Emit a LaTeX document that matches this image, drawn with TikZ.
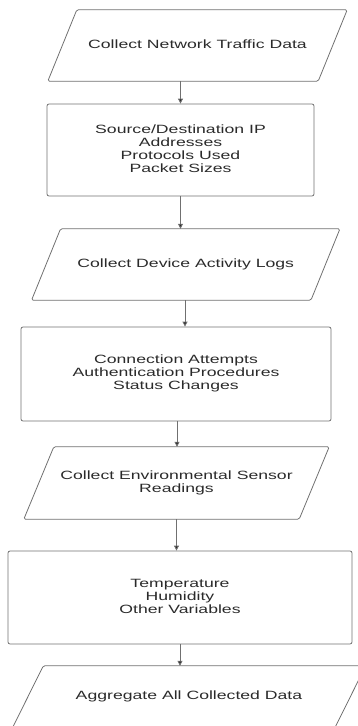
\documentclass[tikz,border=0pt]{standalone}
\usepackage{fontspec}
\setmainfont{Liberation Sans}
\usepackage{graphicx}
\usetikzlibrary{arrows.meta}

\definecolor{edge}{HTML}{707070}
\definecolor{ink}{HTML}{2A2A2A}

% wide, slightly condensed-height label text
\newcommand{\lbl}[1]{\scalebox{1.47}[1]{\fontsize{12}{13}\selectfont\begin{tabular}{@{}c@{}}#1\end{tabular}}}

\tikzset{
  procbox/.style={draw=edge, line width=0.8pt, rounded corners=2pt, inner sep=0pt, text=ink},
  iobox/.style={inner sep=0pt, text=ink},
  ioedge/.style={draw=edge, line width=0.8pt, rounded corners=1.5pt},
  flow/.style={draw=edge, line width=0.8pt, -{Triangle[length=5pt,width=5pt,fill=ink]}},
}

% draw a right-leaning parallelogram around an io node
\newcommand{\iopath}[2]{%
  \draw[ioedge] ([xshift=#2pt]#1.north west) -- ([xshift=#2pt]#1.north east)
    -- ([xshift=-#2pt]#1.south east) -- ([xshift=-#2pt]#1.south west) -- cycle;}

\begin{document}
\begin{tikzpicture}[x=1pt,y=-1pt]
\useasboundingbox (0,0) rectangle (357,726);

\node[iobox, minimum width=270pt, minimum height=71pt] (p1) at (197.5,45.5)
  {\lbl{Collect Network Traffic Data}};
\iopath{p1}{14.5}

\node[procbox, minimum width=267pt, minimum height=92pt] (b2) at (180.5,150)
  {\lbl{Source/Destination IP\\Addresses\\Protocols Used\\Packet Sizes}};

\node[iobox, minimum width=279pt, minimum height=71pt] (p3) at (185.75,264.5)
  {\lbl{Collect Device Activity Logs}};
\iopath{p3}{14.5}

\node[procbox, minimum width=310pt, minimum height=94pt] (b4) at (176,374)
  {\lbl{Connection Attempts\\Authentication Procedures\\Status Changes}};

\node[iobox, minimum width=275pt, minimum height=72pt] (p5) at (176.5,483)
  {\lbl{Collect Environmental Sensor\\Readings}};
\iopath{p5}{15}

\node[procbox, minimum width=344pt, minimum height=93pt] (b6) at (180,597.5)
  {\lbl{Temperature\\Humidity\\Other Variables}};

\node[iobox, minimum width=322pt, minimum height=62pt] (p7) at (189,697)
  {\lbl{Aggregate All Collected Data}};
\iopath{p7}{15.5}

\draw[flow] (b2.north |- p1.south) -- (b2.north);
\draw[flow] (b2.south) -- (b2.south |- p3.north);
\draw[flow] ([xshift=-0.75pt]p3.south) -- ([xshift=-0.75pt]p3.south |- b4.north);
\draw[flow] ([xshift=1pt]b4.south) -- ([xshift=1pt]b4.south |- p5.north);
\draw[flow] (p5.south) -- (p5.south |- b6.north);
\draw[flow] (b6.south) -- (b6.south |- p7.north);
\end{tikzpicture}
\end{document}
